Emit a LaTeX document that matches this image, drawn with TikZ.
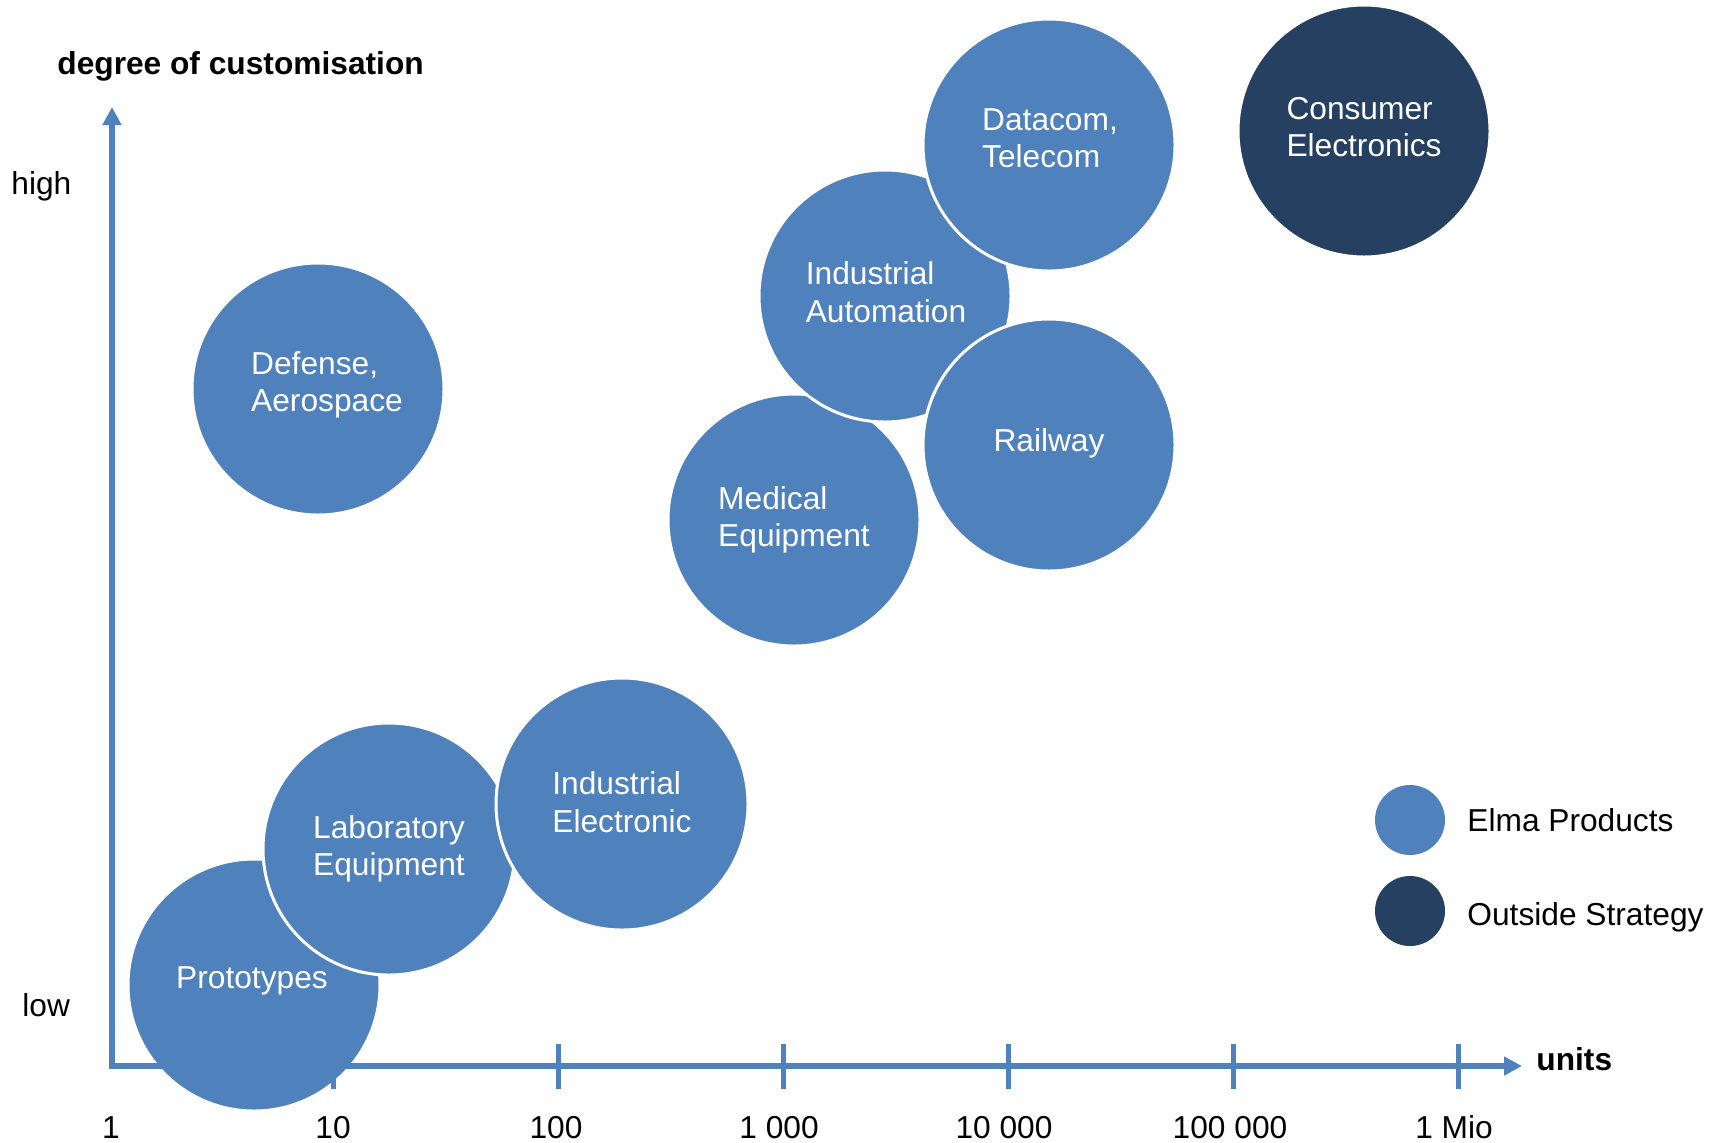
\documentclass[tikz,border=0pt]{standalone}
\usepackage{fontspec}
\setmainfont{Liberation Sans}
\usetikzlibrary{arrows.meta}
\definecolor{elmablue}{HTML}{4F81BD}
\definecolor{elmadark}{HTML}{254061}
\tikzset{
  bubble/.style={circle,fill=elmablue,draw=white,line width=1.5pt,minimum size=126pt,inner sep=0pt},
  outbubble/.style={bubble,fill=elmadark},
  bubbletxt/.style={text=white,align=left,inner sep=0pt,font=\fontsize{15.85}{18.7}\selectfont},
  axisline/.style={elmablue,line width=3pt,line join=miter,
    {Triangle[length=9pt,width=9pt]}-{Triangle[length=9pt,width=9pt]}},
  tickmark/.style={elmablue,line width=2.5pt},
  txt/.style={font=\fontsize{15.85}{18.7}\selectfont,inner sep=0pt},
  boldtxt/.style={font=\fontsize{15.85}{18.7}\selectfont\bfseries,inner sep=0pt},
  legdot/.style={circle,fill=#1,minimum size=35pt,inner sep=0pt}
}

\begin{document}
\begin{tikzpicture}[x=0.5pt,y=-0.5pt]
\useasboundingbox (0,0) rectangle (1723,1142);

\node[bubble] (defense) at (318,389) {};
\node[bubbletxt] (defensetxt) at (327,385) {Defense,\\Aerospace};
\node[outbubble] (consumer) at (1364,131) {};
\node[bubbletxt] (consumertxt) at (1364,127) {Consumer\\Electronics};
\node[bubble] (medical) at (794,520) {};
\node[bubbletxt] (medicaltxt) at (794,520) {Medical\\Equipment};
\node[bubble] (automation) at (885,296) {};
\node[bubbletxt] (automationtxt) at (886,292) {Industrial\\Automation};
\node[bubble] (railway) at (1049,445) {};
\node[bubbletxt] (railwaytxt) at (1049,443) {Railway};
\node[bubble] (datacom) at (1049,145) {};
\node[bubbletxt] (datacomtxt) at (1050,138) {Datacom,\\Telecom};
\node[bubble] (proto) at (254,985) {};
\node[bubbletxt] (prototxt) at (252,981) {Prototypes};
\node[bubble] (lab) at (389,849) {};
\node[bubbletxt] (labtxt) at (389,849) {Laboratory\\Equipment};
\node[bubble] (electronic) at (622,804) {};
\node[bubbletxt] (electronictxt) at (622,802) {Industrial\\Electronic};

\coordinate (origin) at (112,1066);
\coordinate (ytop) at (112,107);
\coordinate (xend) at (1522,1066);
\draw[axisline] (ytop) -- (origin) -- (xend);
\foreach \i in {1,...,6}
  \draw[tickmark] ({108+225*\i},1044) -- ({108+225*\i},1089);

\foreach \x/\t [count=\n] in {111/1, 333/10, 556/100, 779/1 000, 1004/10 000, 1230/100 000, 1454/1 Mio}
  \node[txt,anchor=base] (unit\n) at (\x,1138) {\t};

\node[boldtxt,anchor=base west] (ylabel) at (57,74) {degree of customisation};
\node[boldtxt,anchor=base west] (xlabel) at (1536,1070) {units};
\node[txt,anchor=base west] (high) at (11,194) {high};
\node[txt,anchor=base west] (low) at (22,1016) {low};

\node[legdot=elmablue] (legelma) at (1410,820) {};
\node[legdot=elmadark] (legout) at (1410,911) {};
\node[txt,anchor=base west] (elmatxt) at (1467,831) {Elma Products};
\node[txt,anchor=base west] (outtxt) at (1467,925) {Outside Strategy};

\end{tikzpicture}
\end{document}
